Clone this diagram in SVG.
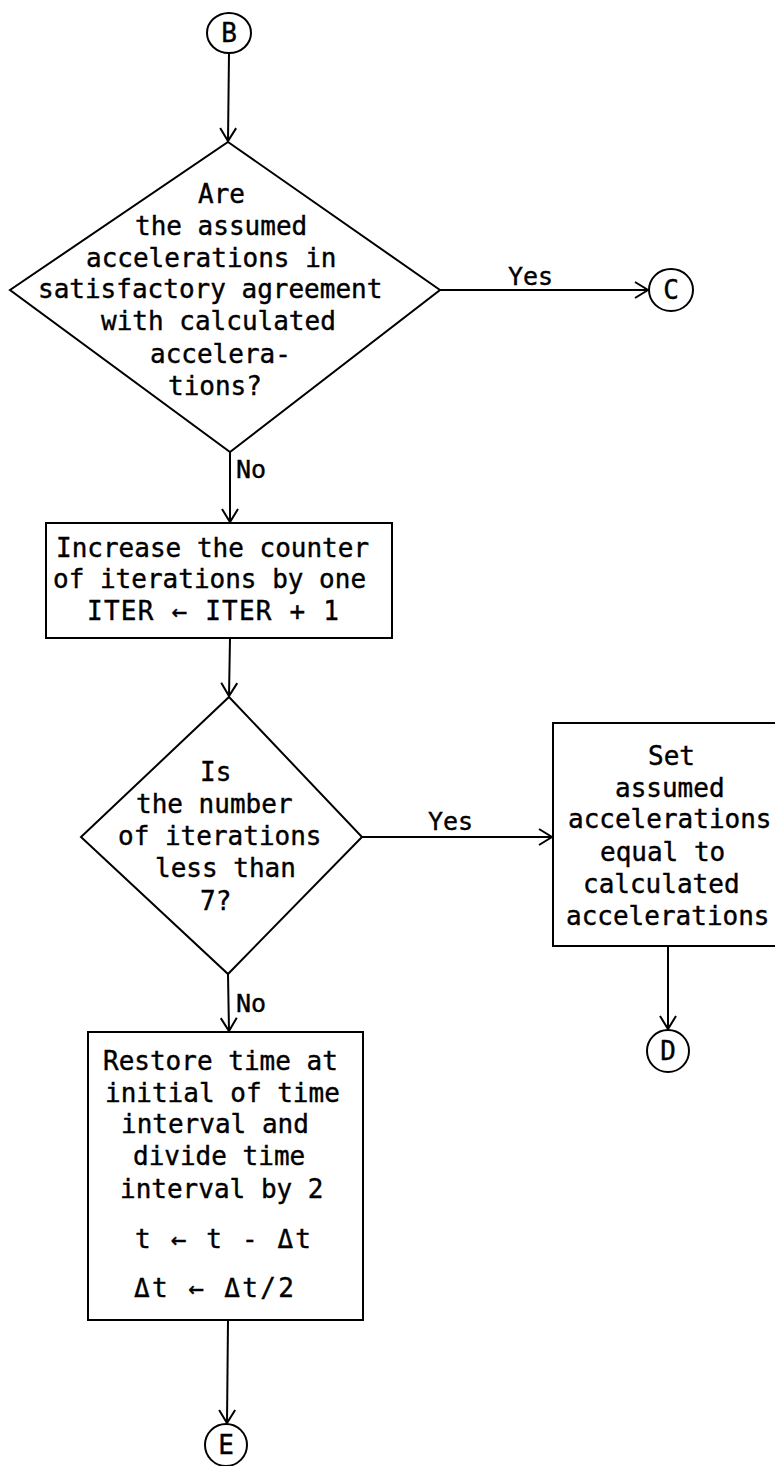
<svg xmlns="http://www.w3.org/2000/svg" width="775" height="1466" viewBox="0 0 775 1466">
  <style>
    .shape { fill: none; stroke: #000; stroke-width: 2; }
    .line { fill: none; stroke: #000; stroke-width: 2; }
    text { font-family: "DejaVu Sans Mono", "Liberation Mono", monospace; font-size: 26px; fill: #000; stroke: #000; stroke-width: 0.4; }
    .lbl { font-size: 25px; }
  </style>
  <defs>
    <marker id="arrow" viewBox="-15 -10 17 20" markerWidth="17" markerHeight="20" refX="0" refY="0" orient="auto" markerUnits="userSpaceOnUse">
      <path d="M-13,-8 L0,0 L-13,8" fill="none" stroke="#000" stroke-width="2"/>
    </marker>
  </defs>
  <rect width="775" height="1466" fill="#fff"/>

  <!-- connectors -->
  <g id="connectors">
    <line class="line" x1="229" y1="53" x2="228" y2="141" marker-end="url(#arrow)"/>
    <line class="line" x1="440" y1="290" x2="648" y2="290" marker-end="url(#arrow)"/>
    <text class="lbl" x="508" y="285">Yes</text>
    <line class="line" x1="230" y1="452" x2="230" y2="522" marker-end="url(#arrow)"/>
    <text class="lbl" x="236" y="478">No</text>
    <line class="line" x1="230" y1="638" x2="229" y2="696" marker-end="url(#arrow)"/>
    <line class="line" x1="362" y1="837" x2="552" y2="837" marker-end="url(#arrow)"/>
    <text class="lbl" x="428" y="830">Yes</text>
    <line class="line" x1="228" y1="974" x2="229" y2="1031" marker-end="url(#arrow)"/>
    <text class="lbl" x="236" y="1012">No</text>
    <line class="line" x1="668" y1="946" x2="668" y2="1029" marker-end="url(#arrow)"/>
    <line class="line" x1="228" y1="1320" x2="227" y2="1423" marker-end="url(#arrow)"/>
  </g>

  <!-- connector B -->
  <g id="conn-B">
    <ellipse class="shape" cx="229" cy="33" rx="22" ry="20"/>
    <text x="229" y="42" text-anchor="middle">B</text>
  </g>

  <!-- convergence test -->
  <g id="test-accel">
    <polygon class="shape" points="228,142 440,290 230,452 10,290"/>
    <text x="198" y="203">Are</text>
    <text x="135" y="235">the assumed</text>
    <text x="86" y="267">accelerations in</text>
    <text x="38" y="298">satisfactory agreement</text>
    <text x="101" y="330">with calculated</text>
    <text x="150" y="363">accelera-</text>
    <text x="168" y="395">tions?</text>
  </g>

  <!-- connector C -->
  <g id="conn-C">
    <ellipse class="shape" cx="671" cy="290" rx="22" ry="21"/>
    <text x="671" y="299" text-anchor="middle">C</text>
  </g>

  <!-- iteration counter -->
  <g id="inc-iter">
    <rect class="shape" x="46" y="523" width="346" height="115"/>
    <text x="56" y="557">Increase the counter</text>
    <text x="53" y="588">of iterations by one</text>
    <text x="87" y="620" textLength="252" lengthAdjust="spacing">ITER ← ITER + 1</text>
  </g>

  <!-- iteration limit test -->
  <g id="test-iter">
    <polygon class="shape" points="229,697 362,837 228,974 81,837"/>
    <text x="200" y="781">Is</text>
    <text x="136" y="813">the number</text>
    <text x="118" y="845">of iterations</text>
    <text x="155" y="877">less than</text>
    <text x="200" y="910">7?</text>
  </g>

  <!-- reset assumed accelerations -->
  <g id="set-accel">
    <rect class="shape" x="553" y="723" width="240" height="223"/>
    <text x="648" y="765">Set</text>
    <text x="615" y="797">assumed</text>
    <text x="568" y="828">accelerations</text>
    <text x="600" y="861">equal to</text>
    <text x="583" y="893">calculated</text>
    <text x="566" y="925">accelerations</text>
  </g>

  <!-- connector D -->
  <g id="conn-D">
    <ellipse class="shape" cx="668" cy="1051" rx="21" ry="21"/>
    <text x="668" y="1060" text-anchor="middle">D</text>
  </g>

  <!-- halve the time step -->
  <g id="halve-step">
    <rect class="shape" x="88" y="1032" width="275" height="288"/>
    <text x="103" y="1070">Restore time at</text>
    <text x="105" y="1102">initial of time</text>
    <text x="121" y="1133">interval and</text>
    <text x="133" y="1165">divide time</text>
    <text x="120" y="1198">interval by 2</text>
    <text x="135" y="1248" textLength="176" lengthAdjust="spacing">t ← t - Δt</text>
    <text x="134" y="1297" textLength="160" lengthAdjust="spacing">Δt ← Δt/2</text>
  </g>

  <!-- connector E -->
  <g id="conn-E">
    <ellipse class="shape" cx="226" cy="1445" rx="21" ry="21"/>
    <text x="226" y="1454" text-anchor="middle">E</text>
  </g>
</svg>
